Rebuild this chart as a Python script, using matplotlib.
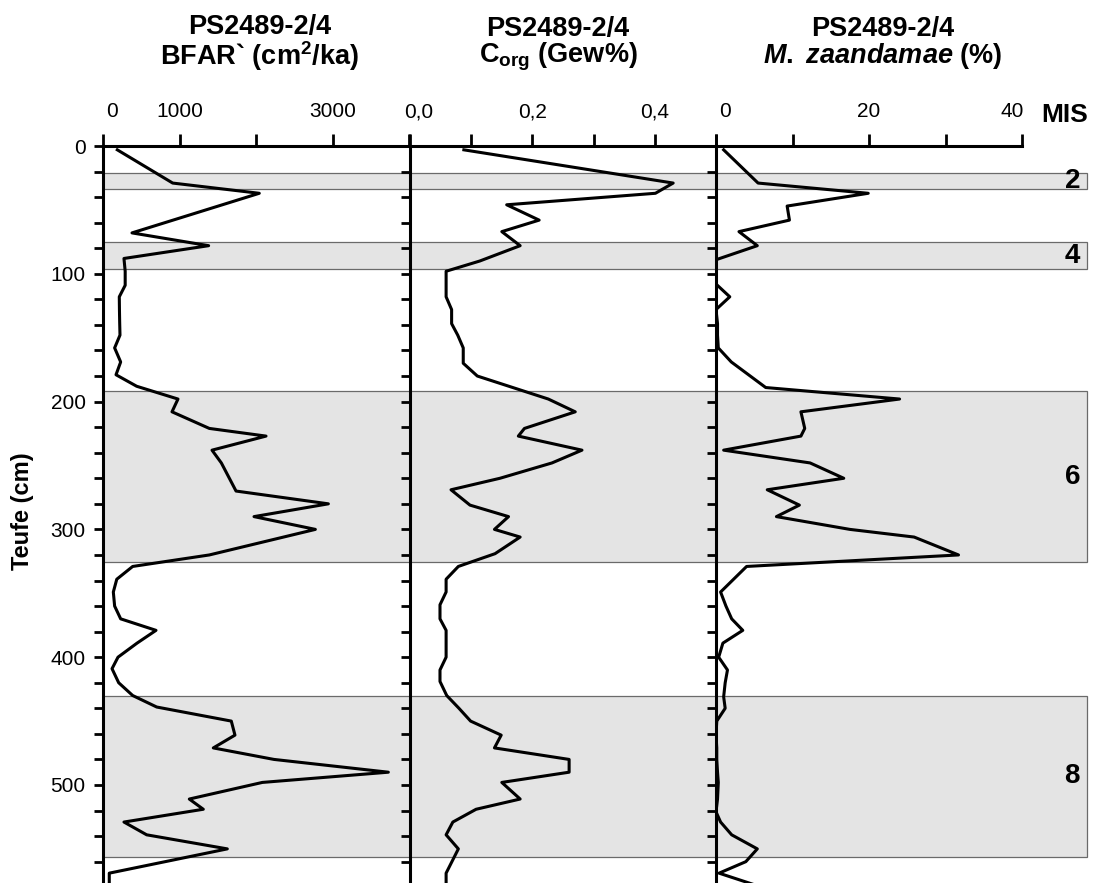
import matplotlib
matplotlib.use('Agg')
import matplotlib.pyplot as plt
from matplotlib.patches import Rectangle
from matplotlib.transforms import ScaledTranslation
from matplotlib.ticker import MultipleLocator, FixedLocator

plt.rcParams['font.family'] = ['Liberation Sans Narrow', 'Liberation Sans', 'DejaVu Sans']
plt.rcParams['mathtext.fontset'] = 'custom'
plt.rcParams['mathtext.rm'] = 'Liberation Sans:bold'
plt.rcParams['mathtext.bf'] = 'Liberation Sans:bold'
plt.rcParams['mathtext.it'] = 'Liberation Sans:bold:italic'

# --- core PS2489-2/4 ---
# benthic foraminifera accumulation rate
bfar_depth = [3, 29, 37, 68, 78, 88, 98, 109, 118, 128, 138, 148, 158, 169, 179, 188,
              198, 208, 221, 227, 238, 248, 270, 280, 290, 300, 320, 329, 339, 349,
              360, 370, 379, 389, 400, 409, 420, 430, 439, 450, 461, 471, 480, 490,
              498, 511, 519, 529, 539, 550, 569, 580]
bfar = [187, 911, 2043, 379, 1381, 274, 290, 290, 213, 215, 218, 222, 152, 231, 170, 440,
        980, 902, 1390, 2131, 1425, 1547, 1739, 2946, 1974, 2776, 1390, 388, 180, 135,
        152, 231, 693, 445, 196, 118, 205, 388, 702, 1677, 1725, 1442, 2235, 3730,
        2083, 1128, 1311, 274, 571, 1625, 82, 82]

# organic carbon
corg_depth = [3, 29, 37, 46, 58, 67, 78, 90, 98, 108, 118, 128, 139, 148, 158, 170, 180,
              189, 198, 208, 221, 227, 238, 248, 260, 269, 281, 290, 300, 306, 319, 329,
              339, 349, 359, 370, 379, 390, 400, 410, 419, 430, 440, 450, 461, 471, 480,
              490, 498, 511, 519, 529, 539, 550, 569, 580]
corg = [0.088, 0.430, 0.401, 0.158, 0.211, 0.150, 0.180, 0.114, 0.059, 0.059, 0.059,
        0.068, 0.068, 0.078, 0.087, 0.087, 0.110, 0.168, 0.226, 0.270, 0.187, 0.177,
        0.281, 0.232, 0.147, 0.067, 0.098, 0.161, 0.138, 0.180, 0.139, 0.079, 0.059,
        0.059, 0.049, 0.049, 0.059, 0.059, 0.059, 0.049, 0.049, 0.060, 0.080, 0.099,
        0.149, 0.138, 0.260, 0.260, 0.150, 0.180, 0.108, 0.070, 0.059, 0.079, 0.059,
        0.059]

# Melonis zaandamae percentage
mz_depth = [3, 29, 37, 47, 58, 67, 78, 89, 98, 108, 118, 128, 139, 148, 158, 169, 189,
            198, 208, 221, 227, 238, 248, 260, 269, 281, 290, 300, 306, 320, 329, 349,
            360, 370, 379, 389, 400, 410, 420, 431, 440, 450, 461, 471, 480, 490, 498,
            511, 521, 529, 539, 550, 560, 569, 580]
mz = [1.0, 5.5, 19.9, 9.3, 9.6, 3.0, 5.4, 0.0, 0.0, 0.0, 1.8, 0.0, 0.2, 0.2, 0.3, 2.0,
      6.5, 24.0, 11.1, 11.6, 11.1, 1.0, 12.3, 16.7, 6.7, 10.9, 7.9, 17.5, 25.9, 31.7,
      4.0, 0.6, 1.3, 2.05, 3.5, 0.9, 0.35, 1.5, 1.2, 1.0, 1.2, 0.1, 0.0, 0.1, 0.1, 0.2,
      0.3, 0.2, 0.0, 0.6, 2.05, 5.4, 3.9, 0.4, 6.0]

# marine isotope stages (glacials shaded)
mis_labels = ['2', '4', '6', '8']
mis_top = [21, 75, 192, 430]
mis_bottom = [33.5, 96.5, 325.5, 556.5]

W, H = 1093, 883
TOP = 146
DEPTH_MAX = 576.7

fig = plt.figure(figsize=(W / 100, H / 100), dpi=100)


def box(x0, x1):
    # pixel columns -> figure fraction, from the top axis down to the bottom edge
    return [x0 / W, 0, (x1 - x0) / W, 1 - TOP / H]


# shaded stage bands behind all three panels
bg = fig.add_axes(box(103, 1087))
bg.set_xlim(0, 1)
bg.set_ylim(DEPTH_MAX, 0)
bg.axis('off')
for lab, t, b in zip(mis_labels, mis_top, mis_bottom):
    bg.add_patch(Rectangle((0, t), 1, b - t, facecolor='#e4e4e4',
                           edgecolor='#6a6a6a', linewidth=0.9, clip_on=False))
    bg.text(0.993, (t + b) / 2, lab, ha='right', va='center', fontsize=20,
            fontweight='bold', family='Liberation Sans')

panels = [
    dict(x=(103, 409), depth=bfar_depth, vals=bfar, xlim=(0, 4000),
         ticks=[0, 1000, 2000, 3000, 4000], labels=['0', '1000', '', '3000', ''],
         title='PS2489-2/4\n' + r'BFAR` (cm$^{\mathbf{2}}$/ka)', tx=260, ty=14),
    dict(x=(410, 716), depth=corg_depth, vals=corg, xlim=(0, 0.5),
         ticks=[0, 0.1, 0.2, 0.3, 0.4, 0.5], labels=['0,0', '', '0,2', '', '0,4', ''],
         title='PS2489-2/4\n' + r'C$_{\mathbf{org}}$ (Gew%)', tx=558, ty=16),
    dict(x=(716, 1022), depth=mz_depth, vals=mz, xlim=(0, 40),
         ticks=[0, 10, 20, 30, 40], labels=['0', '', '20', '', '40'],
         title='PS2489-2/4\n' + r'$\mathit{M.\ zaandamae}$ (%)', tx=883, ty=16),
]

for i, p in enumerate(panels):
    ax = fig.add_axes(box(*p['x']))
    ax.set_facecolor('none')
    ax.plot(p['vals'], p['depth'], color='black', linewidth=2.2)
    ax.set_xlim(*p['xlim'])
    ax.set_ylim(DEPTH_MAX, 0)

    for side in ['right', 'bottom']:
        ax.spines[side].set_visible(False)
    for side in ['top', 'left']:
        ax.spines[side].set_linewidth(2.2)

    ax.xaxis.set_ticks_position('top')
    ax.xaxis.set_major_locator(FixedLocator(p['ticks']))
    ax.set_xticklabels(p['labels'])
    ax.tick_params(axis='x', direction='out', length=9, width=2, pad=9, labelsize=15)

    ax.yaxis.set_major_locator(MultipleLocator(100))
    ax.yaxis.set_minor_locator(MultipleLocator(20))
    ax.tick_params(axis='y', which='both', direction='out', length=6.5, width=2,
                   pad=6, labelsize=15, labelleft=(i == 0))

    # edge labels sit a little inside the axis ends
    xl = ax.get_xticklabels()
    xl[0].set_transform(xl[0].get_transform() + ScaledTranslation(0.09, 0, fig.dpi_scale_trans))
    if i == 2:
        xl[-1].set_transform(xl[-1].get_transform() + ScaledTranslation(-0.10, 0, fig.dpi_scale_trans))

    # two-line panel heading
    fig.text(p['tx'] / W, 1 - p['ty'] / H, p['title'], ha='center', va='top',
             fontsize=19.5, fontweight='bold', family='Liberation Sans',
             linespacing=0.95, multialignment='center')

fig.text(1088 / W, 1 - 122 / H, 'MIS', ha='right', va='baseline', fontsize=19,
         fontweight='bold', family='Liberation Sans')
fig.text(23 / W, 1 - 511 / H, 'Teufe (cm)', rotation=90, ha='center', va='center',
         fontsize=17, fontweight='bold', family='Liberation Sans')

fig.savefig('out.png', dpi=100)
